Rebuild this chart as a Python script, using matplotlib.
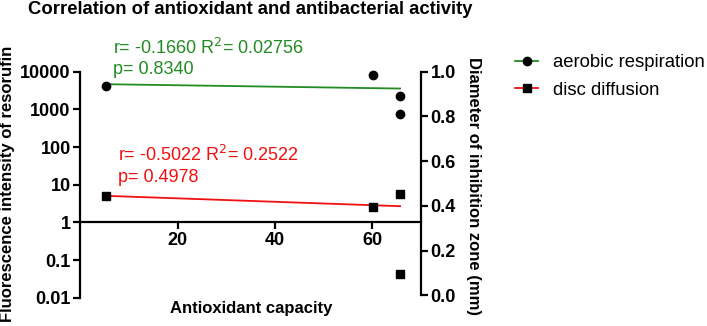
import numpy as np
import matplotlib
matplotlib.use('Agg')
import matplotlib.pyplot as plt
from matplotlib.lines import Line2D

plt.rcParams['font.family'] = ['Liberation Sans', 'DejaVu Sans']

# values
x_aerobic = [5.3, 60.2, 65.7, 65.7]
y_aerobic = [4250, 8170, 2300, 755]
x_disc = [5.3, 60.2, 65.7, 65.7]
y_disc = [5.1, 2.5, 5.7, 0.042]

left_ticks = [0.01, 0.1, 1, 10, 100, 1000, 10000]
left_labels = ['0.01', '0.1', '1', '10', '100', '1000', '10000']
right_ticks = [0.0, 0.2, 0.4, 0.6, 0.8, 1.0]
x_ticks = [20, 40, 60]

green = '#228b22'
red = '#f01010'

W, H = 707, 326
fig = plt.figure(figsize=(W / 100, H / 100), dpi=100)
ax = fig.add_axes([80.4 / W, 28.3 / H, (421 - 80.4) / W, (297.7 - 71.7) / H])

ax.set_yscale('log')
ax.set_ylim(0.01, 10000)
ax.set_xlim(0, 70)

# linear regression lines, drawn over the data range
for xs, ys, col in [(x_aerobic, y_aerobic, green), (x_disc, y_disc, red)]:
    k, b = np.polyfit(xs, ys, 1)
    xx = np.array([min(xs), max(xs)])
    ax.plot(xx, k * xx + b, color=col, lw=1.3, zorder=2)

ax.plot(x_aerobic, y_aerobic, 'o', color='black', ms=6, zorder=3, clip_on=False)
ax.plot(x_disc, y_disc, 's', color='black', ms=6, zorder=3, clip_on=False)

ax.spines['top'].set_visible(False)
ax.spines['right'].set_visible(False)
ax.spines['bottom'].set_position(('data', 1))
for s in ['left', 'bottom']:
    ax.spines[s].set_linewidth(1.6)

ax.yaxis.set_major_locator(plt.FixedLocator(left_ticks))
ax.yaxis.set_minor_locator(plt.NullLocator())
ax.set_yticklabels(left_labels)
ax.set_xticks(x_ticks)
ax.tick_params(width=1.6, length=5, labelsize=13, pad=2)
for lab in ax.get_xticklabels() + ax.get_yticklabels():
    lab.set_fontweight('bold')

ax2 = ax.twinx()
ax2.set_ylim(-0.01, 1.0)
for s in ['top', 'left', 'bottom']:
    ax2.spines[s].set_visible(False)
ax2.spines['right'].set_linewidth(1.6)
ax2.spines['right'].set_bounds(0, 1)
ax2.set_yticks(right_ticks)
ax2.set_yticklabels(['%.1f' % t for t in right_ticks])
ax2.tick_params(width=1.6, length=5, labelsize=13, pad=2)
for lab in ax2.get_yticklabels():
    lab.set_fontweight('bold')

fig.text(250 / W, 1 - 9 / H, 'Correlation of antioxidant and antibacterial activity',
         ha='center', va='center', fontsize=13.3, fontweight='bold')
fig.text(8 / W, 1 - 184 / H, 'Fluorescence intensity of resorufin', rotation=90,
         ha='center', va='center', fontsize=12, fontweight='bold')
fig.text(474 / W, 1 - 186 / H, 'Diameter of inhibition zone (mm)', rotation=-90,
         ha='center', va='center', fontsize=12, fontweight='bold')
fig.text(251 / W, 1 - 309 / H, 'Antioxidant capacity',
         ha='center', va='center', fontsize=12, fontweight='bold')

fig.text(113 / W, 1 - 48 / H, r'r= -0.1660 R$^2$= 0.02756', color=green,
         ha='left', va='center', fontsize=13)
fig.text(113 / W, 1 - 70 / H, 'p= 0.8340', color=green,
         ha='left', va='center', fontsize=13)
fig.text(118 / W, 1 - 155 / H, r'r= -0.5022 R$^2$= 0.2522', color=red,
         ha='left', va='center', fontsize=13)
fig.text(118 / W, 1 - 177 / H, 'p= 0.4978', color=red,
         ha='left', va='center', fontsize=13)

handles = [Line2D([], [], color=green, marker='o', mfc='black', mec='black', ms=6, lw=1.3),
           Line2D([], [], color=red, marker='s', mfc='black', mec='black', ms=6, lw=1.3)]
fig.legend(handles, ['aerobic respiration', 'disc diffusion'], loc='center left',
           bbox_to_anchor=(515 / W, 1 - 76.5 / H), frameon=False, fontsize=13.3,
           handlelength=1.25, handletextpad=0.8, labelspacing=0.55, borderpad=0,
           borderaxespad=0)

fig.savefig('out.png', dpi=100)
